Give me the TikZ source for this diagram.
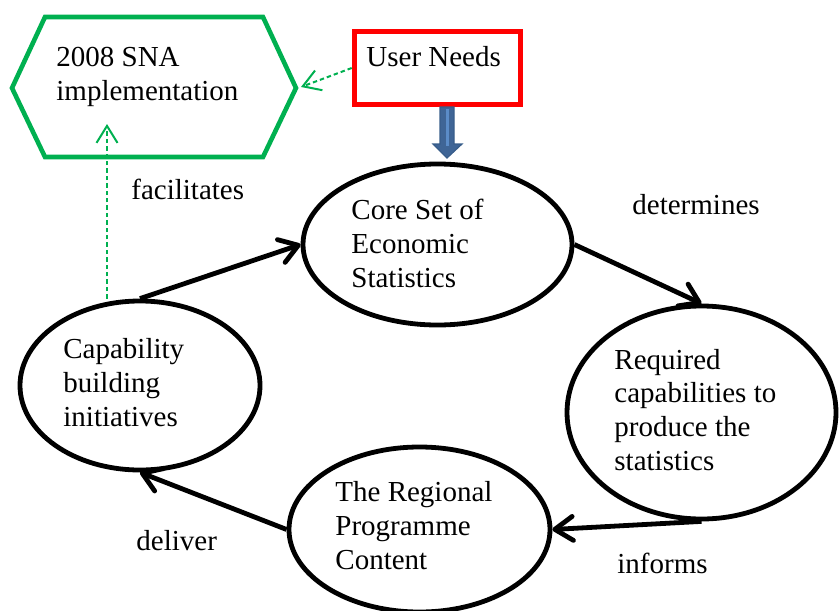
\documentclass[tikz,border=0pt]{standalone}
\usepackage{fontspec}
\setmainfont{Liberation Serif}
\usepackage{xcolor}
\usepackage{tikz}
\usetikzlibrary{arrows.meta,shapes.geometric,calc}
\definecolor{snagreen}{HTML}{00B050}
\definecolor{needblue}{HTML}{3F6596}
\definecolor{neededge}{HTML}{385D8A}
\definecolor{needlight}{HTML}{5B8CC8}

\begin{document}
\begin{tikzpicture}[x=0.5pt,y=-0.5pt,
  every node/.style={font=\fontsize{14.5}{16.8}\selectfont},
  bubble/.style={ellipse,draw,line width=2.4pt,inner sep=0pt},
  flow/.style={-{Straight Barb[length=9pt,width=12pt,round]},line width=2.4pt},
  link/.style={-{Straight Barb[length=8.5pt,width=10.5pt]},color=snagreen,dash pattern=on 2.2pt off 1.5pt,line width=1pt},
  txt/.style={align=left,anchor=base west,inner sep=0pt}]
\useasboundingbox (0,0) rectangle (839,610);
% hexagon and user needs
\draw[color=snagreen,line width=2.3pt] (45,17) -- (263,17) -- (296,88) -- (263,157) -- (45,157) -- (12,88) -- cycle;
\coordinate (snaE) at (301,87);
\coordinate (snaS) at (107,124);
\node (snatxt) [txt] at (56,100) {2008 SNA\\implementation};
\node (user) [draw=red,line width=2.8pt,minimum width=83pt,minimum height=36.5pt,inner sep=0pt] at (437.5,68) {};
\node (usertxt) [txt] at (366,67) {User Needs};
\filldraw[fill=needblue,draw=neededge,line width=0.6pt] (440,107) -- (454,107) -- (454,144) -- (462,144) -- (447,158) -- (433,144) -- (440,144) -- cycle;
\draw[color=needlight,line width=1.5pt] (447,109) -- (447,146);
% the cycle
\node (core) [bubble,minimum width=134.5pt,minimum height=80.5pt] at (437.5,244.5) {};
\node (req) [bubble,minimum width=134.5pt,minimum height=106.5pt] at (701.5,412.5) {};
\node (reg) [bubble,minimum width=130.5pt,minimum height=82.5pt] at (419.5,529.5) {};
\node (cap) [bubble,minimum width=120pt,minimum height=84.5pt] at (140,385.5) {};
\node (coretxt) [txt] at (351,287) {Core Set of\\Economic\\Statistics};
\node (reqtxt) [txt] at (614,470) {Required\\capabilities to\\produce the\\statistics};
\node (regtxt) [txt] at (335,569) {The Regional\\Programme\\Content};
\node (captxt) [txt] at (63,426) {Capability\\building\\initiatives};
\draw[flow] (cap.north) -- (core.west);
\draw[flow] (core.east) -- (req.north);
\draw[flow] (req.south) -- (reg.east);
\draw[flow] (reg.west) -- (cap.south);
\draw[link] (user.west) -- (snaE);
\draw[link] (snaS |- cap.north) -- (snaS);
% labels
\node (facil) [txt] at (131,199) {facilitates};
\node (determ) [txt] at (632,214) {determines};
\node (inform) [txt] at (617,573) {informs};
\node (deliv) [txt] at (136,550) {deliver};
\end{tikzpicture}
\end{document}
